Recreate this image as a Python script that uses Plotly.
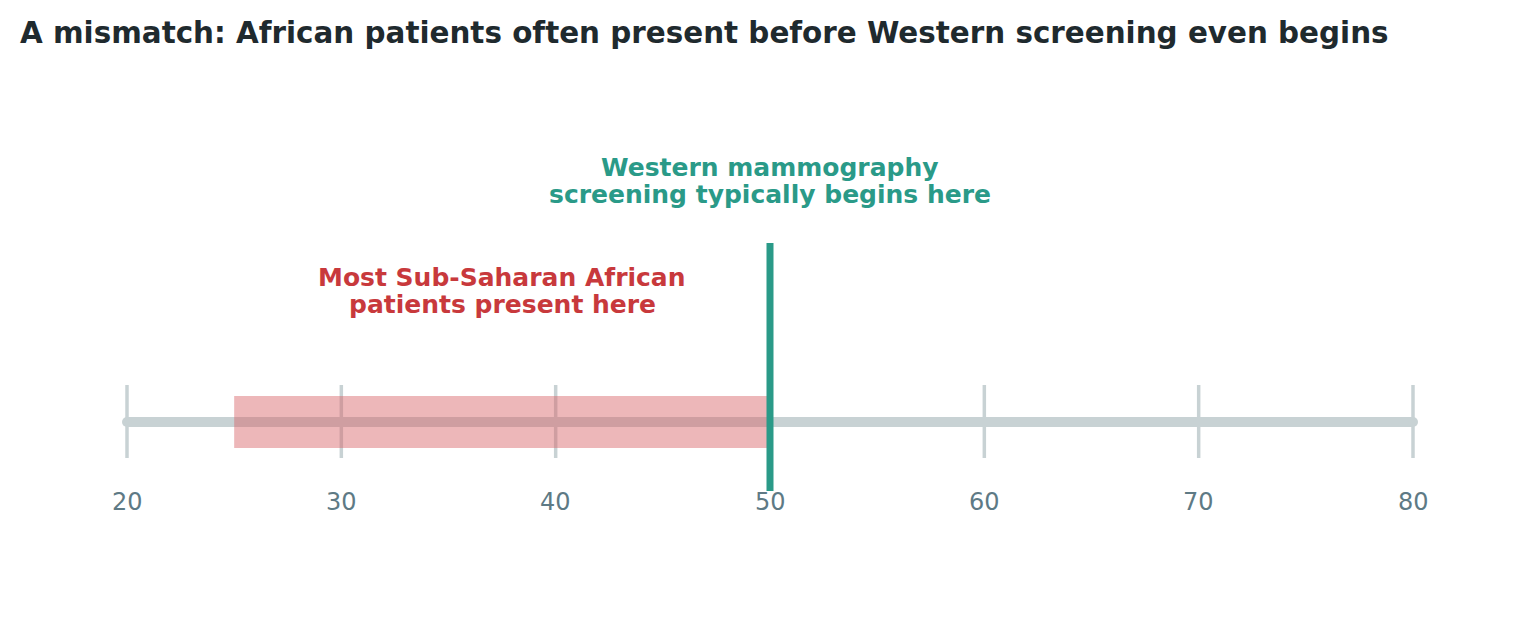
import plotly.graph_objects as go

# data
tick_ages = [20, 30, 40, 50, 60, 70, 80]
tick_labels = ["20", "30", "40", "50", "60", "70", "80"]
axis_start, axis_end = 20, 80
present_start, present_end = 25, 50
screen_start = 50
red_lines = ["Most Sub-Saharan African", "patients present here"]
green_lines = ["Western mammography", "screening typically begins here"]

grey = "#c8d2d4"
green = "#2a9a88"
red = "#c8393c"

fig = go.Figure()

# baseline
fig.add_trace(go.Scatter(
    x=[axis_start, axis_end], y=[0, 0], mode="lines+markers",
    line=dict(color=grey, width=10), marker=dict(color=grey, size=10),
    hoverinfo="skip", showlegend=False))

# tick marks
for a in tick_ages:
    fig.add_trace(go.Scatter(
        x=[a, a], y=[-3.6, 3.7], mode="lines",
        line=dict(color=grey, width=3.5), hoverinfo="skip", showlegend=False))

# tick labels
for a, lab in zip(tick_ages, tick_labels):
    fig.add_annotation(x=a, y=-8, text=lab, showarrow=False,
                       font=dict(family="DejaVu Sans", size=24, color="#5e7a85"))

# presentation band
fig.add_shape(type="rect", x0=present_start, x1=present_end, y0=-2.6, y1=2.6,
              fillcolor="rgba(214,95,100,0.45)", line=dict(width=0), layer="above")

# screening line
fig.add_shape(type="line", x0=screen_start, x1=screen_start, y0=-6.9, y1=17.9,
              line=dict(color=green, width=7), layer="above")

for txt, yy in zip(red_lines, [14.5, 11.8]):
    fig.add_annotation(x=(present_start + present_end) / 2, y=yy,
                       text="<b>" + txt + "</b>", showarrow=False,
                       font=dict(family="DejaVu Sans", size=25, color=red))
for txt, yy in zip(green_lines, [25.5, 22.8]):
    fig.add_annotation(x=screen_start, y=yy,
                       text="<b>" + txt + "</b>", showarrow=False,
                       font=dict(family="DejaVu Sans", size=25, color=green))

px_per_unit = (1405 - 119) / (axis_end - axis_start)
fig.update_layout(
    width=1540, height=618,
    margin=dict(l=0, r=0, t=0, b=0),
    paper_bgcolor="white", plot_bgcolor="white",
    title=dict(text="<b>A mismatch: African patients often present before Western screening even begins</b>",
               x=12 / 1540, xanchor="left", y=1 - 25 / 618, yanchor="middle",
               font=dict(family="DejaVu Sans", size=29.4, color="#1f2a2e")),
    xaxis=dict(range=[axis_start - 119 / px_per_unit, axis_end + (1540 - 1405) / px_per_unit],
               visible=False, fixedrange=True),
    yaxis=dict(range=[-20.4, 41.4], visible=False, fixedrange=True),
)

fig.write_html("out.html")
